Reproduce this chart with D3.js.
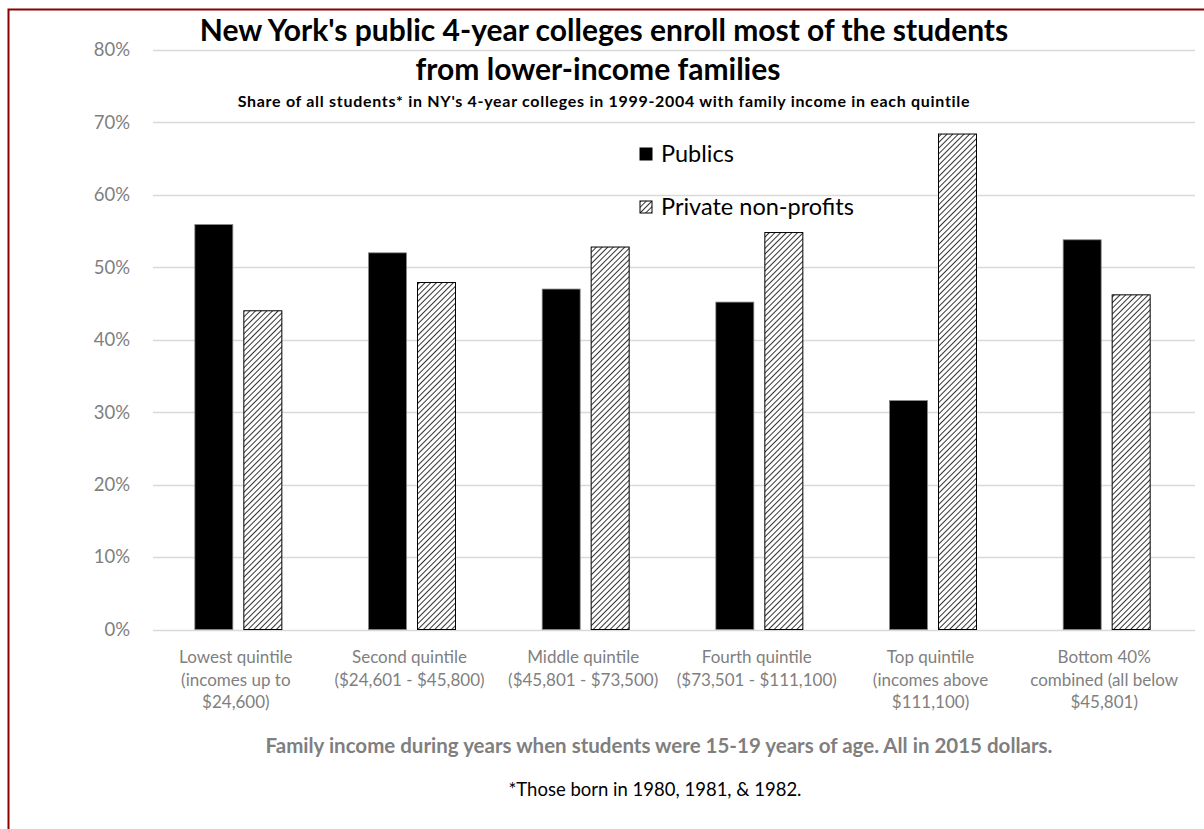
<!DOCTYPE html>
<html>
<head>
<meta charset="utf-8">
<script src="https://cdn.jsdelivr.net/npm/d3@7"></script>
<style>
  html, body { margin: 0; padding: 0; background: #fff; }
  svg { display: block; font-family: Lato, "Open Sans", sans-serif; }
</style>
</head>
<body>
<svg id="chart" width="1204" height="829"></svg>
<script>
// categories (multi-line labels) and values, percent
const categories = [
  ["Lowest quintile", "(incomes up to", "$24,600)"],
  ["Second quintile", "($24,601 - $45,800)"],
  ["Middle quintile", "($45,801 - $73,500)"],
  ["Fourth quintile", "($73,501 - $111,100)"],
  ["Top quintile", "(incomes above", "$111,100)"],
  ["Bottom 40%", "combined (all below", "$45,801)"]
]
const publics = [55.9, 52.0, 47.0, 45.2, 31.6, 53.8]
const privates = [44.0, 47.9, 52.8, 54.8, 68.4, 46.2]
const seriesNames = ["Publics", "Private non-profits"]
const yTicks = [0, 10, 20, 30, 40, 50, 60, 70, 80]

const svg = d3.select("#chart")
const margin = {left: 153, right: 9, top: 50, bottom: 199}
const width = 1204, height = 829

// frame
svg.append("path")
  .attr("d", `M8.5,${height} V9.5 H${width}`)
  .attr("fill", "none")
  .attr("stroke", "#8b0000")
  .attr("stroke-width", 2)

const defs = svg.append("defs")
const hatch = defs.append("pattern")
  .attr("id", "hatch")
  .attr("patternUnits", "userSpaceOnUse")
  .attr("width", 4).attr("height", 4)
  .attr("patternTransform", "rotate(45)")
hatch.append("rect").attr("width", 4).attr("height", 4).attr("fill", "#fff")
hatch.append("line")
  .attr("x1", 0).attr("y1", 0).attr("x2", 0).attr("y2", 4)
  .attr("stroke", "#000").attr("stroke-width", 1.6)

const x = d3.scaleBand()
  .domain(d3.range(categories.length))
  .range([margin.left, width - margin.right])

const y = d3.scaleLinear()
  .domain([0, 80])
  .range([height - margin.bottom - 0.5, margin.top])

// gridlines
svg.append("g")
  .selectAll("line")
  .data(yTicks)
  .join("line")
  .attr("x1", margin.left)
  .attr("x2", width - margin.right)
  .attr("y1", d => Math.round(y(d)) + 0.5)
  .attr("y2", d => Math.round(y(d)) + 0.5)
  .attr("stroke", "#d9d9d9")
  .attr("stroke-width", 1.5)

// y tick labels
const yAxis = svg.append("g")
  .attr("transform", `translate(${margin.left - 20},0)`)
  .call(d3.axisLeft(y).tickValues(yTicks).tickSize(0).tickFormat(d => d + "%"))
yAxis.select(".domain").remove()
yAxis.selectAll("text")
  .attr("font-family", "Lato, sans-serif")
  .attr("font-size", 18.5)
  .attr("fill", "#7f7f7f")

// bars
const barW = 38, gap = 11
const mid = i => x(i) + x.bandwidth() / 2 - 1.5
const groups = svg.append("g")
  .selectAll("g")
  .data(d3.range(categories.length))
  .join("g")

groups.append("rect")
  .attr("x", i => mid(i) - gap / 2 - barW)
  .attr("width", barW)
  .attr("y", i => y(publics[i]))
  .attr("height", i => y(0) - y(publics[i]))
  .attr("fill", "#000")
  .attr("stroke", "#888")
  .attr("stroke-width", 0.8)

groups.append("rect")
  .attr("x", i => mid(i) + gap / 2)
  .attr("width", barW)
  .attr("y", i => y(privates[i]))
  .attr("height", i => y(0) - y(privates[i]))
  .attr("fill", "url(#hatch)")
  .attr("stroke", "#000")
  .attr("stroke-width", 1)

// x category labels
const xLab = svg.append("g")
  .selectAll("text")
  .data(categories)
  .join("text")
  .attr("x", (d, i) => x(i) + x.bandwidth() / 2 - 4)
  .attr("y", 663)
  .attr("text-anchor", "middle")
  .attr("font-size", 17)
  .attr("fill", "#7f7f7f")
xLab.selectAll("tspan")
  .data(d => d)
  .join("tspan")
  .attr("x", function() { return this.parentNode.getAttribute("x") })
  .attr("dy", (d, j) => j === 0 ? 0 : 22.5)
  .text(d => d)

// titles
svg.append("text")
  .attr("x", 604).attr("y", 41)
  .attr("text-anchor", "middle")
  .attr("font-size", 30).attr("font-weight", "bold")
  .text("New York's public 4-year colleges enroll most of the students")
svg.append("text")
  .attr("x", 598).attr("y", 80)
  .attr("text-anchor", "middle")
  .attr("font-size", 30).attr("font-weight", "bold")
  .text("from lower-income families")
svg.append("text")
  .attr("x", 604).attr("y", 107)
  .attr("text-anchor", "middle")
  .attr("font-size", 16).attr("font-weight", "bold")
  .attr("letter-spacing", 0.7)
  .text("Share of all students* in NY's 4-year colleges in 1999-2004 with family income in each quintile")

// legend
const legend = svg.append("g")
  .selectAll("g")
  .data(seriesNames)
  .join("g")
  .attr("transform", (d, i) => `translate(640,${148 + i * 53})`)
legend.append("rect")
  .attr("width", 12).attr("height", 12)
  .attr("fill", (d, i) => i === 0 ? "#000" : "url(#hatch)")
  .attr("stroke", "#000").attr("stroke-width", 1)
legend.append("text")
  .attr("x", 21).attr("y", 14)
  .attr("font-size", 23.5)
  .text(d => d)

// axis title and footnote
svg.append("text")
  .attr("x", 659).attr("y", 753)
  .attr("text-anchor", "middle")
  .attr("font-size", 20.5).attr("font-weight", "bold")
  .attr("fill", "#7f7f7f")
  .text("Family income during years when students were 15-19 years of age. All in 2015 dollars.")
svg.append("text")
  .attr("x", 655).attr("y", 796)
  .attr("text-anchor", "middle")
  .attr("font-size", 18.5)
  .text("*Those born in 1980, 1981, & 1982.")
</script>
</body>
</html>
